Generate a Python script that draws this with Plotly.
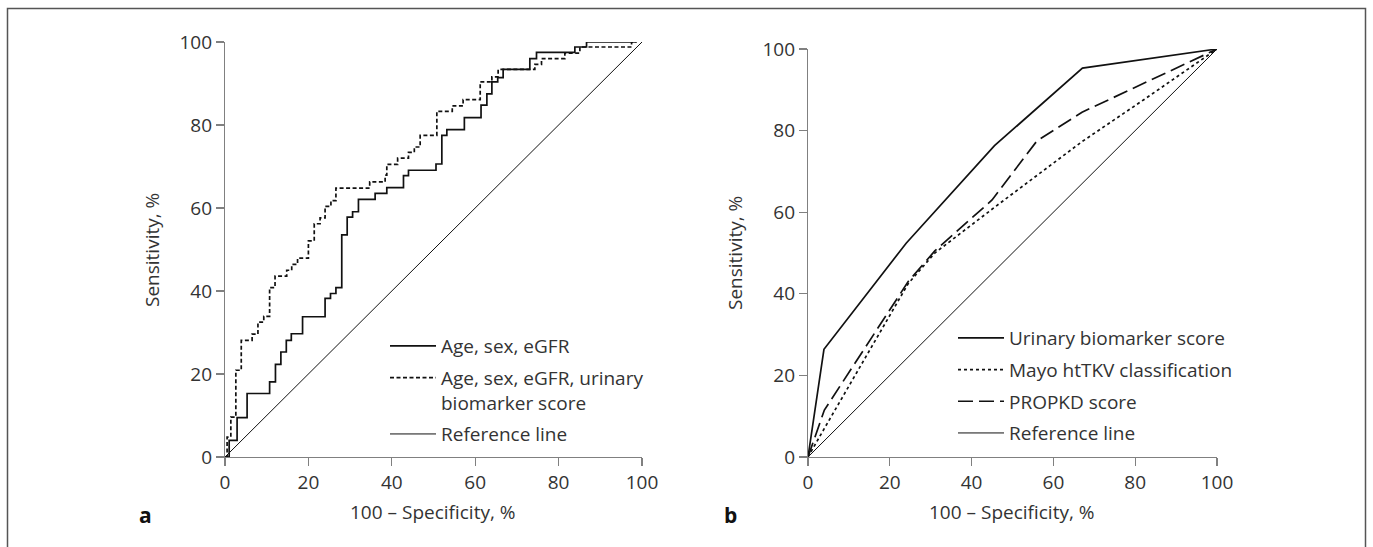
import plotly.graph_objects as go

W, H = 1373, 547

# ---------------- data ----------------
tick_vals = [0, 20, 40, 60, 80, 100]

# Panel a: ROC step curves (x = 100 - specificity, y = sensitivity)
base_x = [0, 1.0, 2.9, 5.3, 10.7, 12.1, 13.4, 14.7, 15.9, 18.6, 24.0, 25.3, 26.6, 28.0,
          29.3, 30.6, 32.0, 36.0, 38.8, 42.8, 44.0, 50.6, 52.0, 53.2, 57.4, 61.4, 62.8,
          64.0, 65.4, 66.7, 73.1, 74.7, 83.9, 86.7, 98.7]
base_y = [0, 4.0, 9.5, 15.3, 18.1, 22.3, 25.3, 28.1, 29.7, 33.8, 38.2, 39.4, 40.8, 53.5,
          57.8, 59.1, 62.1, 63.5, 64.9, 67.8, 69.1, 70.6, 77.5, 78.9, 81.8, 84.8, 87.5,
          90.4, 91.4, 93.4, 96.0, 97.5, 98.8, 100, 100]

bio_x = [0, 0.5, 1.4, 2.6, 3.9, 6.5, 7.9, 9.3, 10.7, 12.0, 14.8, 16.0, 17.4, 20.0, 21.4,
         22.8, 24.0, 25.4, 26.6, 34.7, 38.4, 38.8, 41.4, 44.0, 45.4, 46.8, 50.8, 54.5,
         57.1, 61.2, 64.0, 65.5, 74.3, 75.9, 81.5, 85.1, 97.5, 98.7]
bio_y = [0, 4.8, 9.6, 20.9, 28.1, 29.6, 32.5, 33.9, 40.8, 43.6, 45.0, 46.4, 47.9, 52.1,
         56.2, 57.6, 60.4, 61.8, 64.8, 66.3, 67.9, 70.5, 72.0, 73.4, 74.7, 77.5, 83.3,
         84.6, 86.1, 90.4, 91.6, 93.4, 94.6, 96.0, 97.3, 98.8, 100, 100]

ref_x = [0, 100]
ref_y = [0, 100]

# Panel b
ubs_x = [0, 3.9, 24.0, 45.6, 67.1, 100]
ubs_y = [0, 26.4, 52.4, 76.3, 95.3, 100]

mayo_x = [0, 4.0, 24.5, 31.0, 46.0, 67.0, 82.0, 100]
mayo_y = [0, 7.0, 42.5, 50.0, 61.5, 77.3, 87.5, 100]

propkd_x = [0, 4.0, 24.5, 31.0, 45.0, 56.0, 67.0, 100]
propkd_y = [0, 11.5, 43.0, 50.5, 63.0, 77.5, 84.5, 100]

names_a = ["Age, sex, eGFR", "Age, sex, eGFR, urinary<br>biomarker score", "Reference line"]
names_b = ["Urinary biomarker score", "Mayo htTKV classification", "PROPKD score", "Reference line"]

# ---------------- figure ----------------
FONT = "Open Sans"
FS = 19
TXT = "#333333"
INK = "#111111"
AX = "#808080"

fig = go.Figure()

def add(x, y, name, xa, ya, leg, grp, dash="solid", width=1.7, shape="linear"):
    fig.add_trace(go.Scatter(
        x=x, y=y, mode="lines", name=name, xaxis=xa, yaxis=ya,
        line=dict(color=INK, width=width, dash=dash, shape=shape),
        legend=leg, legendgroup=grp, hoverinfo="skip"))

add(base_x, base_y, names_a[0], "x", "y", "legend", "a1", shape="hv")
add(bio_x, bio_y, names_a[1], "x", "y", "legend", "a2", dash="4px,2.5px", shape="hv")
add(ref_x, ref_y, names_a[2], "x", "y", "legend", "a3", width=1.0)

add(ubs_x, ubs_y, names_b[0], "x2", "y2", "legend2", "b1")
add(mayo_x, mayo_y, names_b[1], "x2", "y2", "legend2", "b2", dash="3px,3px")
add(propkd_x, propkd_y, names_b[2], "x2", "y2", "legend2", "b3", dash="15px,6px")
add(ref_x, ref_y, names_b[3], "x2", "y2", "legend2", "b4", width=1.0)

axis_common = dict(
    range=[0, 100], tickmode="array", tickvals=tick_vals,
    ticktext=[str(v) for v in tick_vals],
    ticks="outside", ticklen=8, tickwidth=1.2, tickcolor=AX,
    showline=True, linecolor=AX, linewidth=1.2,
    showgrid=False, zeroline=False, automargin=False,
    tickfont=dict(family=FONT, size=FS, color=TXT),
)

leg_common = dict(xanchor="left", yanchor="top", bgcolor="rgba(0,0,0,0)",
                  font=dict(family=FONT, size=FS, color=TXT),
                  tracegroupgap=4, itemwidth=46, valign="top")

fig.update_layout(
    width=W, height=H,
    margin=dict(l=0, r=0, t=0, b=0),
    paper_bgcolor="white", plot_bgcolor="white",
    font=dict(family=FONT, size=FS, color=TXT),
    xaxis=dict(domain=[225 / W, 642 / W], anchor="y", **axis_common),
    yaxis=dict(domain=[1 - 457 / H, 1 - 42 / H], anchor="x", **axis_common),
    xaxis2=dict(domain=[808 / W, 1217 / W], anchor="y2", **axis_common),
    yaxis2=dict(domain=[1 - 457 / H, 1 - 49 / H], anchor="x2", **axis_common),
    legend=dict(x=385 / W, y=1 - 327 / H, **leg_common),
    legend2=dict(x=953 / W, y=1 - 319 / H, **leg_common),
    showlegend=True,
)

ann = []
def label(text, x, y, angle=0, bold=False, size=FS):
    ann.append(dict(text=f"<b>{text}</b>" if bold else text, x=x / W, y=1 - y / H,
                    xref="paper", yref="paper", showarrow=False, textangle=angle,
                    xanchor="center", yanchor="middle",
                    font=dict(family=FONT, size=size, color=TXT if not bold else "#111")))

label("Sensitivity, %", 152, 250, angle=-90)
label("100 – Specificity, %", 433, 512)
label("a", 145, 515, bold=True, size=21)
label("Sensitivity, %", 735, 253, angle=-90)
label("100 – Specificity, %", 1012, 512)
label("b", 730, 515, bold=True, size=21)
fig.update_layout(annotations=ann)

fig.add_shape(type="rect", xref="paper", yref="paper",
              x0=7.5 / W, x1=1365.5 / W, y0=-0.1, y1=1 - 8.5 / H,
              line=dict(color="#555555", width=1.5), fillcolor="rgba(0,0,0,0)")

fig.write_html("out.html", config={"displayModeBar": False, "staticPlot": True},
               post_script="document.body.style.margin='0';document.body.style.overflow='hidden';")
